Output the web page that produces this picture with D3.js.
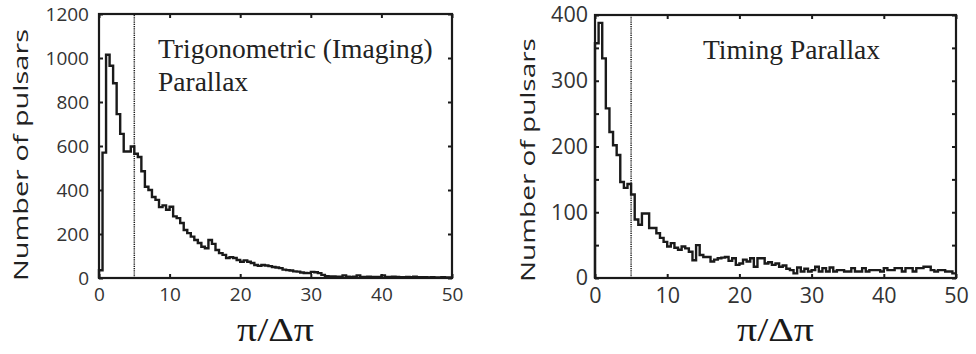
<!DOCTYPE html>
<html>
<head>
<meta charset="utf-8">
<script src="https://cdn.jsdelivr.net/npm/d3@7"></script>
<style>
  html, body { margin: 0; padding: 0; background: #fff; }
  svg { display: block; }
</style>
</head>
<body>
<svg id="chart" width="976" height="354"></svg>
<script>
// ---------- DATA ----------
const binWidth = 0.5;            // histogram bin width in π/Δπ
const cutoff = 5;                // dotted vertical line position
const xTicks = [0, 10, 20, 30, 40, 50];
const leftYTicks = [0, 200, 400, 600, 800, 1000, 1200];
const rightYTicks = [0, 100, 200, 300, 400];
const rightYMinorTicks = [50, 150, 250, 350];

// Trigonometric (Imaging) parallax histogram, 100 bins of 0.5
const trigCounts = [
  35, 570, 1015, 965, 885, 745, 655, 575, 575, 598,
  565, 550, 485, 415, 400, 368, 355, 322, 330, 310,
  324, 280, 272, 250, 218, 204, 188, 173, 159, 142,
  135, 173, 155, 127, 113, 105, 91, 95, 91, 82,
  74, 80, 74, 68, 59, 55, 59, 57, 54, 50,
  48, 45, 38, 36, 34, 30, 29, 25, 23, 22,
  28, 26, 22, 14, 8, 7, 7, 6, 6, 12,
  6, 5, 6, 12, 5, 5, 6, 5, 5, 5,
  12, 5, 5, 6, 5, 4, 4, 5, 4, 6,
  4, 4, 4, 3, 4, 3, 3, 4, 3, 3
];

// Timing parallax histogram, 100 bins of 0.5
const timingCounts = [
  357, 388, 334, 258, 222, 202, 187, 146, 137, 143,
  127, 89, 81, 98, 98, 76, 76, 68, 61, 55,
  48, 53, 46, 43, 48, 45, 40, 27, 50, 35,
  32, 32, 25, 28, 30, 31, 32, 26, 30, 20,
  22, 28, 25, 30, 17, 30, 30, 22, 24, 20,
  22, 17, 19, 14, 12, 7, 16, 10, 14, 10,
  12, 17, 10, 15, 10, 16, 10, 12, 12, 10,
  10, 15, 10, 10, 15, 10, 12, 12, 12, 10,
  15, 12, 12, 15, 15, 10, 15, 15, 10, 15,
  15, 17, 17, 12, 10, 12, 12, 10, 10, 7
];

const panels = [
  {
    counts: trigCounts, yMax: 1200, yTicks: leftYTicks, yMinor: [],
    x0: 99, x1: 452, y0: 278, y1: 14,
    labelPad: 10, tickFontSize: 19, yLabelX: 20, yLabelY: 155, yLabelLen: 252,
    title: ["Trigonometric (Imaging)", "Parallax"], titleX: 158, titleY: 58
  },
  {
    counts: timingCounts, yMax: 400, yTicks: rightYTicks, yMinor: rightYMinorTicks,
    x0: 595, x1: 956, y0: 278, y1: 15,
    labelPad: 7, tickFontSize: 21.5, yLabelX: 527, yLabelY: 160, yLabelLen: 244,
    title: ["Timing Parallax"], titleX: 703, titleY: 59
  }
];

// ---------- DRAW ----------
const svg = d3.select("#chart");
const ink = "#1a1a1a";
const tickFont = "'Open Sans', sans-serif";
const serif = "'Liberation Serif', 'Times New Roman', serif";

// stretch a text element along its baseline to a target length
function stretchTo(sel, target) {
  const w = sel.node().getComputedTextLength();
  return w > 0 ? target / w : 1;
}

panels.forEach(p => {
  const x = d3.scaleLinear().domain([0, 50]).range([p.x0, p.x1]);
  const y = d3.scaleLinear().domain([0, p.yMax]).range([p.y0, p.y1]);
  const g = svg.append("g");

  // Histogram step line
  const pts = [[0, 0]];
  p.counts.forEach((c, i) => pts.push([i * binWidth, c]));
  pts.push([p.counts.length * binWidth, p.counts[p.counts.length - 1]]);
  const line = d3.line().x(d => x(d[0])).y(d => y(d[1])).curve(d3.curveStepAfter);
  g.append("path").datum(pts)
    .attr("d", line)
    .attr("fill", "none")
    .attr("stroke", ink)
    .attr("stroke-width", 2.4)
    .attr("stroke-linejoin", "miter");

  // Dotted cutoff line
  g.append("line")
    .attr("x1", x(cutoff)).attr("x2", x(cutoff))
    .attr("y1", y.range()[0]).attr("y2", y.range()[1])
    .attr("stroke", ink).attr("stroke-width", 1.5)
    .attr("stroke-dasharray", "1.2,1");

  // Axes with inward ticks
  const yAllTicks = p.yTicks.concat(p.yMinor);
  const axL = g.append("g").attr("transform", `translate(${p.x0},0)`)
    .call(d3.axisLeft(y).tickValues(yAllTicks).tickSize(-4).tickPadding(p.labelPad)
      .tickFormat(d => p.yTicks.includes(d) ? d3.format("d")(d) : ""));
  const axR = g.append("g").attr("transform", `translate(${p.x1},0)`)
    .call(d3.axisRight(y).tickValues(yAllTicks).tickSize(-4).tickFormat(""));
  const axB = g.append("g").attr("transform", `translate(0,${p.y0})`)
    .call(d3.axisBottom(x).tickValues(xTicks).tickSize(-4).tickPadding(10).tickFormat(d3.format("d")));
  const axT = g.append("g").attr("transform", `translate(0,${p.y1})`)
    .call(d3.axisTop(x).tickValues(xTicks).tickSize(-4).tickFormat(""));

  [axL, axR, axB, axT].forEach(a => {
    a.select(".domain").remove();
    a.selectAll(".tick line").attr("stroke", ink).attr("stroke-width", 2);
    a.selectAll(".tick text").attr("fill", "#333")
      .style("font-family", tickFont).style("font-size", p.tickFontSize + "px");
  });

  // Frame
  g.append("rect")
    .attr("x", p.x0).attr("y", p.y1)
    .attr("width", p.x1 - p.x0).attr("height", p.y0 - p.y1)
    .attr("fill", "none").attr("stroke", ink).attr("stroke-width", 2.2);

  // Y label (stretched along its length like the reference)
  const yl = g.append("text")
    .attr("text-anchor", "middle")
    .attr("dominant-baseline", "central")
    .style("font-family", tickFont).style("font-size", "20px")
    .attr("fill", "#222")
    .text("Number of pulsars");
  const k = stretchTo(yl, p.yLabelLen);
  yl.attr("transform", `translate(${p.yLabelX},${p.yLabelY}) rotate(-90) scale(${k},1)`);

  // X label
  const xl = g.append("text")
    .attr("text-anchor", "middle")
    .style("font-family", serif).style("font-size", "34px")
    .attr("fill", ink)
    .text("π/Δπ");
  const kx = stretchTo(xl, 77);
  xl.attr("transform", `translate(${(p.x0 + p.x1) / 2},341) scale(${kx},1)`);

  // Panel title
  p.title.forEach((t, i) => {
    g.append("text")
      .attr("x", p.titleX).attr("y", p.titleY + i * 33)
      .style("font-family", serif).style("font-size", "27.5px")
      .attr("fill", "#222")
      .text(t);
  });
});
</script>
</body>
</html>
